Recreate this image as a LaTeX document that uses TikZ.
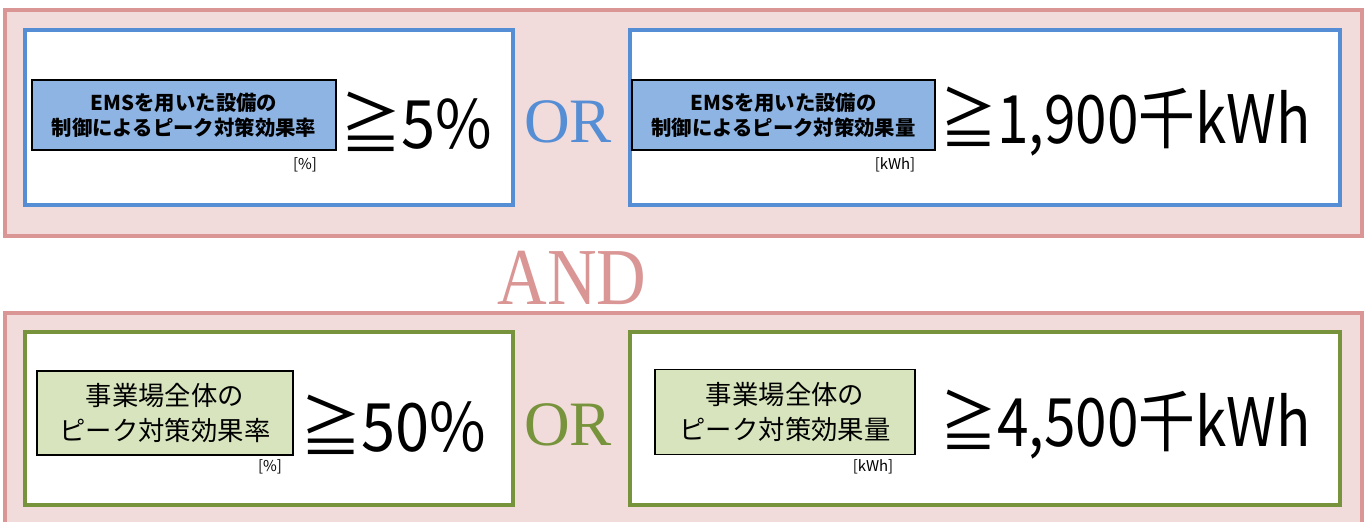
\documentclass[tikz,border=0pt]{standalone}
\usepackage{fontspec}
\setmainfont{Liberation Serif}
\newfontfamily\jpfont{Noto Sans CJK JP}
\usetikzlibrary{positioning}
\definecolor{pinkfill}{HTML}{F2DCDB}
\definecolor{pinkline}{HTML}{D99694}
\definecolor{blueline}{HTML}{558ED5}
\definecolor{bluefill}{HTML}{8EB4E3}
\definecolor{greenline}{HTML}{77933C}
\definecolor{greenfill}{HTML}{D7E4BD}
\tikzset{
  outer/.style={draw=pinkline, line width=2.4pt, fill=pinkfill},
  bluebox/.style={draw=blueline, line width=2.4pt, fill=white},
  greenbox/.style={draw=greenline, line width=2.4pt, fill=white},
  bluelabel/.style={draw=black, line width=0.9pt, fill=bluefill, align=center,
    minimum width=6.08cm, minimum height=1.4cm, inner sep=0pt,
    font=\jpfont\bfseries\fontsize{11.6}{14.2}\selectfont},
  greenlabel/.style={draw=black, line width=0.9pt, fill=greenfill, align=center,
    inner sep=0pt, font=\jpfont\fontsize{15}{20}\selectfont},
  unit/.style={font=\jpfont\fontsize{8.5}{9}\selectfont, inner sep=0pt},
  bigtext/.style={anchor=west, inner sep=0pt, font=\jpfont\fontsize{38}{40}\selectfont},
  logic/.style={inner sep=0pt, font=\fontsize{36}{38}\selectfont}
}
\begin{document}
\begin{tikzpicture}[x=0.02cm, y=-0.02cm]
  \useasboundingbox (0,0) rectangle (1366,522);

  % upper group
  \draw[outer] (5,10) rectangle (1362,236);
  \draw[bluebox] (25,30) rectangle (513,205);
  \draw[bluebox] (630,30) rectangle (1340,205);
  \node[bluelabel] (emsrate) at (184,115) {EMSを用いた設備の\\制御によるピーク対策効果率};
  \node[unit] (emsrateunit) at (305,165) {[\%]};
  \node[bigtext, xscale=0.92] (emsratevalue) at (340,122) {≧5\%};
  \node[logic, text=blueline] (orblue) at (568,122) {OR};
  \node[bluelabel, minimum width=6.06cm] (emsamount) at (783.5,115) {EMSを用いた設備の\\制御によるピーク対策効果量};
  \node[unit] (emsamountunit) at (895,165) {[kWh]};
  \node[bigtext, xscale=0.85] (emsamountvalue) at (940,122) {≧1,900千kWh};

  \node[logic, text=pinkline, font=\fontsize{46}{48}\selectfont, xscale=0.85] (andlabel) at (572,278) {AND};

  % lower group
  \fill[pinkfill] (5,313) rectangle (1362,522);
  \draw[pinkline, line width=2.4pt] (5,522) -- (5,313) -- (1362,313) -- (1362,522);
  \draw[greenbox] (25,332) rectangle (513,505);
  \draw[greenbox] (630,332) rectangle (1340,505);
  \node[greenlabel, minimum width=5.12cm, minimum height=1.68cm] (siterate) at (165,413) {事業場全体の\\ピーク対策効果率};
  \node[unit] (siterateunit) at (270,467) {[\%]};
  \node[bigtext, xscale=0.92] (siteratevalue) at (300,425) {≧50\%};
  \node[logic, text=greenline] (orgreen) at (568,425) {OR};
  \node[greenlabel, minimum width=5.2cm, minimum height=1.7cm] (siteamount) at (785,412) {事業場全体の\\ピーク対策効果量};
  \node[unit] (siteamountunit) at (873,467) {[kWh]};
  \node[bigtext, xscale=0.85] (siteamountvalue) at (940,425) {≧4,500千kWh};
\end{tikzpicture}
\end{document}
